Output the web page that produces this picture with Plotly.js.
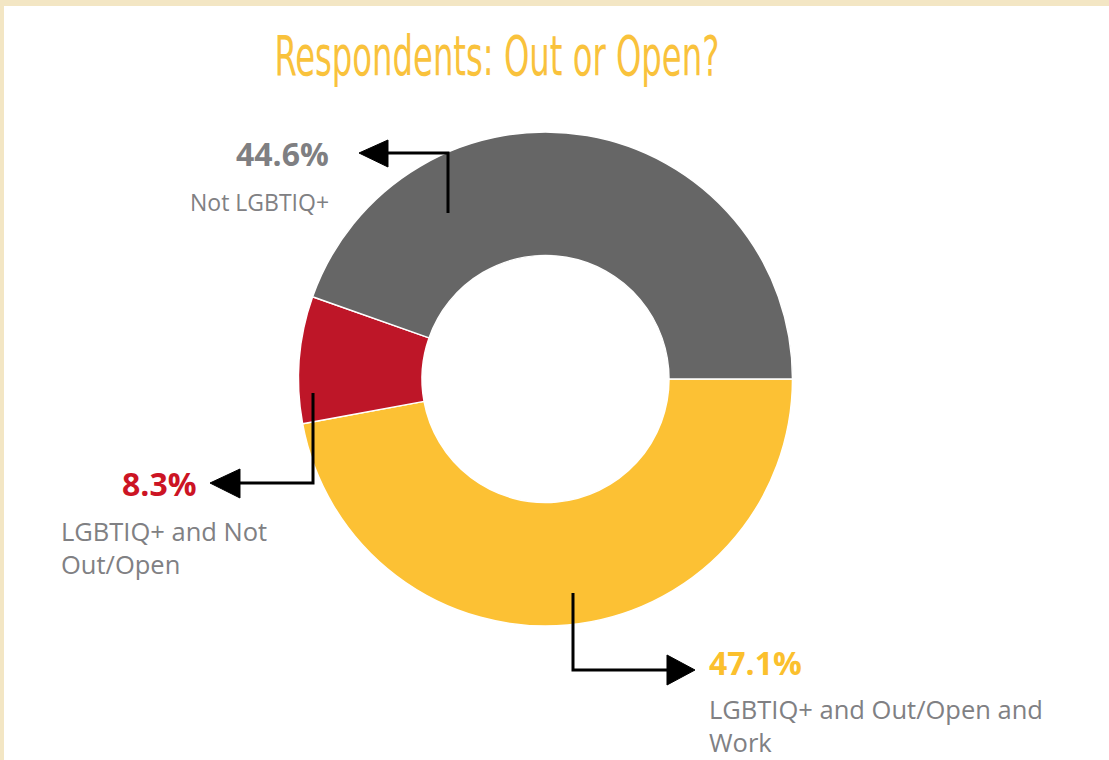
<!DOCTYPE html>
<html>
<head>
<meta charset="utf-8">
<script src="https://cdn.plot.ly/plotly-3.0.1.min.js"></script>
<style>
  html, body { margin: 0; padding: 0; background: #ffffff; }
  #chart { width: 1109px; height: 760px; }
</style>
</head>
<body>
<div id="chart"></div>
<script>
// ---- data ----
const categories = ["LGBTIQ+ and Out/Open and Work", "LGBTIQ+ and Not Out/Open", "Not LGBTIQ+"];
const labelLines = [["LGBTIQ+ and Out/Open and", "Work"], ["LGBTIQ+ and Not", "Out/Open"], ["Not LGBTIQ+"]];
const shares = [47.1, 8.3, 44.6];
const sliceColors = ["#FCC134", "#BE1628", "#666666"];
const pctColors = ["#FBC02D", "#CC1424", "#7F7F82"];
const titleText = "Respondents: Out or Open?";

// ---- layout helpers (pixel -> paper) ----
const W = 1109, H = 760;
const px = x => x / W;
const py = y => 1 - y / H;
function path(points, close) {
  return points.map((p, i) => (i ? "L" : "M") + px(p[0]).toFixed(5) + "," + py(p[1]).toFixed(5)).join(" ") + (close ? " Z" : "");
}

const labelFont = (s) => ({ family: "Open Sans, Noto Sans, sans-serif", size: s, color: "#808083" });
const pctFont = (c) => ({ family: "Open Sans, Noto Sans, sans-serif", size: 32, color: c, weight: 700 });
const labelSizes = [25.5, 25.5, 23];

// arrow geometry (pixel), one per category
const arrowLines = [
  [[573, 593], [573, 670], [668, 670]],
  [[313, 393], [313, 483], [240, 483]],
  [[448, 213], [448, 153], [388, 153]]
];
const arrowHeads = [
  [[667, 655], [695, 670], [667, 685]],
  [[240, 469], [210, 483], [240, 498]],
  [[388, 140], [359, 153], [388, 167]]
];

const shapes = [
  { type: "rect", xref: "paper", yref: "paper", x0: px(4), x1: 1.01, y0: -0.01, y1: py(6),
    fillcolor: "#ffffff", line: { width: 0 }, layer: "below" }
];
arrowLines.forEach(pts => shapes.push({ type: "path", xref: "paper", yref: "paper", path: path(pts, false),
  line: { color: "#000000", width: 3 }, layer: "above" }));
arrowHeads.forEach(pts => shapes.push({ type: "path", xref: "paper", yref: "paper", path: path(pts, true),
  fillcolor: "#000000", line: { color: "#000000", width: 1 }, layer: "above" }));

// annotation positions (pixel)
const pctPos = [
  { x: 707, y: 662, anchor: "left" },
  { x: 199, y: 483, anchor: "right" },
  { x: 331, y: 153, anchor: "right" }
];
const labPos = [
  { x: 707, y: 725, anchor: "left" },
  { x: 59, y: 547, anchor: "left" },
  { x: 331, y: 202, anchor: "right" }
];

const annotations = [];
shares.forEach((v, i) => {
  annotations.push({ xref: "paper", yref: "paper", x: px(pctPos[i].x), y: py(pctPos[i].y),
    xanchor: pctPos[i].anchor, yanchor: "middle", showarrow: false,
    text: "<b>" + v.toFixed(1) + "%</b>", font: pctFont(pctColors[i]) });
  annotations.push({ xref: "paper", yref: "paper", x: px(labPos[i].x), y: py(labPos[i].y),
    xanchor: labPos[i].anchor, yanchor: "middle", align: labPos[i].anchor, showarrow: false,
    text: labelLines[i].join("<br>"), font: labelFont(labelSizes[i]) });
});

const trace = {
  type: "pie",
  labels: categories,
  values: shares,
  hole: 0.5,
  sort: false,
  direction: "clockwise",
  rotation: 90,
  marker: { colors: sliceColors, line: { color: "#ffffff", width: 1.5 } },
  textinfo: "none",
  hoverinfo: "label+percent",
  showlegend: false,
  domain: { x: [px(298.5), px(792.5)], y: [py(626), py(132)] }
};

const layout = {
  width: W, height: H,
  margin: { l: 0, r: 0, t: 0, b: 0 },
  paper_bgcolor: "#F3E6C4",
  title: { text: titleText, x: 0.448, xanchor: "center", y: py(55), yanchor: "middle",
    font: { family: "Liberation Sans Narrow, DejaVu Sans Condensed, sans-serif", size: 56, color: "#F9C23C" } },
  shapes: shapes,
  annotations: annotations,
  showlegend: false
};

Plotly.newPlot("chart", [trace], layout, { displayModeBar: false, staticPlot: true }).then(() => {
  // condense the title horizontally to mimic the narrow display face
  const t = document.querySelector(".gtitle");
  if (t) {
    const bb = t.getBBox();
    const cx = bb.x + bb.width / 2;
    const target = 445;
    const s = Math.min(1, target / bb.width);
    t.setAttribute("transform", "translate(" + cx + ",0) scale(" + s + ",1) translate(" + (-cx) + ",0)");
  }
});
</script>
</body>
</html>
